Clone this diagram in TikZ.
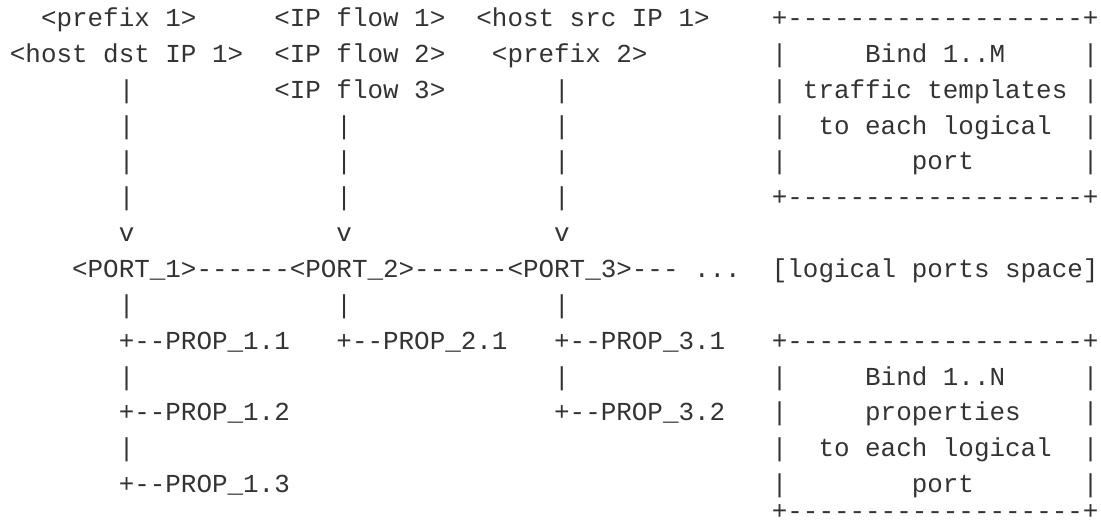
\documentclass[tikz,border=0pt]{standalone}
\usepackage{fontspec}
\setmonofont{Liberation Mono}
\definecolor{ink}{HTML}{333333}
% a run of single hyphens, kept apart so they never join
\newcommand{\dashrun}[1]{\foreach \k in {1,...,#1}{-}}

\begin{document}
\begin{tikzpicture}[
    every node/.style = {inner sep=0pt, anchor=base west, text=ink,
        font=\ttfamily\fontsize{12.96}{15}\selectfont},
    boxedge/.style = {}]
\useasboundingbox (0pt,0pt) rectangle (550.5pt,-262.5pt);
\begin{scope}[x=7.775pt, y=-17.925pt, shift={(4.75pt,-13.25pt)}]
% matches for the ports
\node (prefixA) at (2,0) {<prefix 1>};
\node (hostdst) at (0,1) {<host dst IP 1>};
\node (flowA) at (17,0) {<IP flow 1>};
\node (flowB) at (17,1) {<IP flow 2>};
\node (flowC) at (17,2) {<IP flow 3>};
\node (hostsrc) at (30,0) {<host src IP 1>};
\node (prefixB) at (31,1) {<prefix 2>};
% down strokes and heads
\foreach \c/\r in {7/2,7/3,7/4,7/5,21/3,21/4,21/5,35/2,35/3,35/4,35/5,
                   7/8,21/8,35/8,7/10,35/10,7/12}
    \node (bar\c-\r) at (\c,\r) {|};
\foreach \c in {7,21,35}
    \node (head\c) at (\c,6) {v};
% logical ports
\node (portA) at (4,7) {<PORT\_1>};
\node (linkA) at (12,7) {\dashrun{6}};
\node (portB) at (18,7) {<PORT\_2>};
\node (linkB) at (26,7) {\dashrun{6}};
\node (portC) at (32,7) {<PORT\_3>};
\node (linkC) at (40,7) {\dashrun{3} ...};
\node (space) at (49,7) {[logical ports space]};
% properties
\node (propAA) at (7,9) {+\dashrun{2}PROP\_1.1};
\node (propAB) at (7,11) {+\dashrun{2}PROP\_1.2};
\node (propAC) at (7,13) {+\dashrun{2}PROP\_1.3};
\node (propBA) at (21,9) {+\dashrun{2}PROP\_2.1};
\node (propCA) at (35,9) {+\dashrun{2}PROP\_3.1};
\node (propCB) at (35,11) {+\dashrun{2}PROP\_3.2};
% the two notes on the right
\foreach \r in {0,5,9,13.75}
    \node[boxedge] (edge\r) at (49,\r) {+\dashrun{19}+};
\foreach \r in {1,2,3,4,10,11,12,13} {
    \node[boxedge] (sideL\r) at (49,\r) {|};
    \node[boxedge] (sideR\r) at (69,\r) {|};
}
\node (bindM) at (55,1) {Bind 1..M};
\node (tmplA) at (51,2) {traffic templates};
\node (eachA) at (52,3) {to each logical};
\node (portnA) at (58,4) {port};
\node (bindN) at (55,10) {Bind 1..N};
\node (propsB) at (55,11) {properties};
\node (eachB) at (52,12) {to each logical};
\node (portnB) at (58,13) {port};
\end{scope}
\end{tikzpicture}
\end{document}
